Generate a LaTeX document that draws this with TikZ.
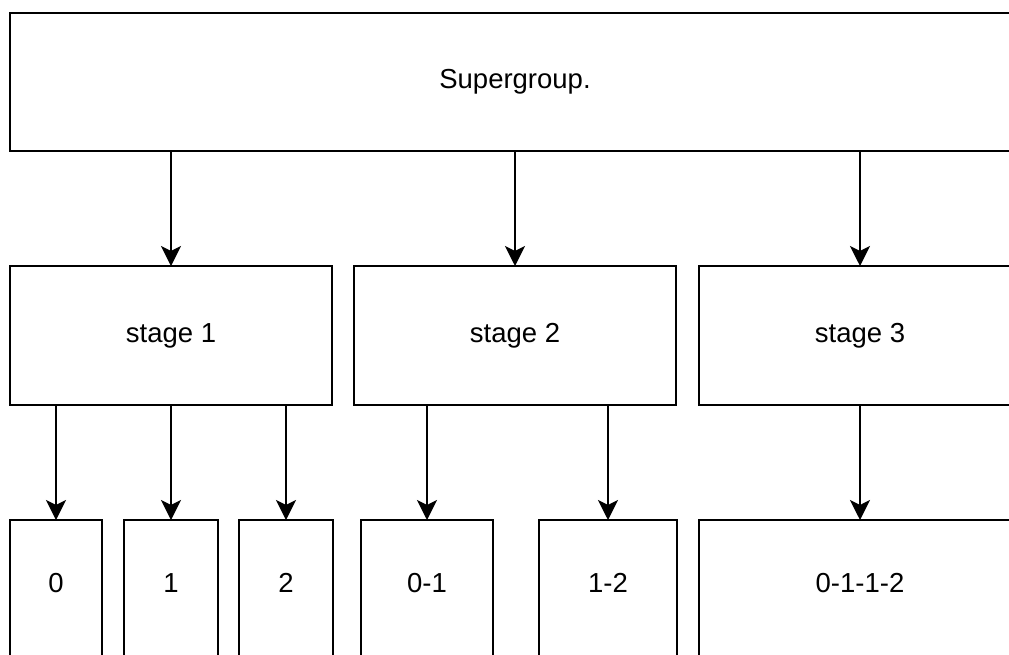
\documentclass[tikz,border=0pt]{standalone}
\usepackage{fontspec}
\setmainfont{Liberation Sans}
\usetikzlibrary{arrows.meta}
\begin{document}
\begin{tikzpicture}[x=1pt,y=-1pt,
  box/.style={draw=black, line width=1.8pt, rectangle, inner sep=0pt, outer sep=0pt,
    font=\fontsize{27.5}{33}\selectfont, text=black},
  leaf/.style={box, anchor=north, text height=72.7pt, text depth=87.3pt},
  arr/.style={-{Stealth[length=20pt,width=20pt,inset=5pt]}, line width=1.8pt}]
\clip (0,0) rectangle (1009,654);
\fill[white] (0,0) rectangle (1009,654);
\node[box, minimum width=1010pt, minimum height=138pt] (sg) at (515,82) {Supergroup.};
\node[box, minimum width=322pt, minimum height=139pt] (s1) at (171,335.5) {stage 1};
\node[box, minimum width=322pt, minimum height=139pt] (s2) at (515,335.5) {stage 2};
\node[box, minimum width=322pt, minimum height=139pt] (s3) at (860,335.5) {stage 3};
\node[leaf, minimum width=92pt] (b0) at (56,520) {0};
\node[leaf, minimum width=94pt] (b1) at (171,520) {1};
\node[leaf, minimum width=94pt] (b2) at (286,520) {2};
\node[leaf, minimum width=132pt] (b01) at (427,520) {0-1};
\node[leaf, minimum width=138pt] (b12) at (608,520) {1-2};
\node[leaf, minimum width=322pt] (b0112) at (860,520) {0-1-1-2};
\draw[arr] (sg.south -| s1.north) -- (s1.north);
\draw[arr] (sg.south -| s2.north) -- (s2.north);
\draw[arr] (sg.south -| s3.north) -- (s3.north);
\draw[arr] (s1.south -| b0.north) -- (b0.north);
\draw[arr] (s1.south -| b1.north) -- (b1.north);
\draw[arr] (s1.south -| b2.north) -- (b2.north);
\draw[arr] (s2.south -| b01.north) -- (b01.north);
\draw[arr] (s2.south -| b12.north) -- (b12.north);
\draw[arr] (s3.south -| b0112.north) -- (b0112.north);
\end{tikzpicture}
\end{document}
